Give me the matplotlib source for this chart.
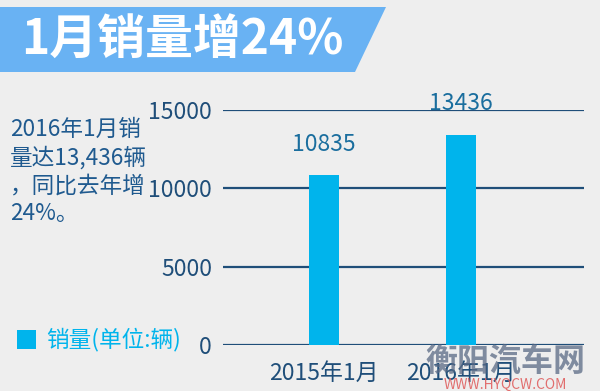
import matplotlib.pyplot as plt
from matplotlib.patches import Polygon, Rectangle

plt.rcParams['font.family'] = ['Noto Sans CJK SC', 'DejaVu Sans']

# data
months = ["2015年1月", "2016年1月"]
sales = [10835, 13436]
yticks = [0, 5000, 10000, 15000]
title = "1月销量增24%"
note = "2016年1月销\n量达13,436辆\n，同比去年增\n24%。"
legend_label = "销量(单位:辆)"

bg = "#eeeeee"
navy = "#1f4e79"
bar_color = "#00b4ec"

fig = plt.figure(figsize=(6, 3.91), dpi=100)
fig.patch.set_facecolor(bg)

# title banner (pixel coords -> figure fraction)
W, H = 600, 391
def fx(px):
    return px / W
def fy(py):
    return 1 - py / H

banner = Polygon([(0, fy(7)), (fx(386), fy(7)), (fx(355), fy(72)), (0, fy(72))],
                 closed=True, transform=fig.transFigure, facecolor="#69b2f3",
                 edgecolor="none")
fig.patches.append(banner)
fig.text(fx(21), fy(40), title, color="white", fontsize=34.5, fontweight="bold",
         ha="left", va="center")

# left note
fig.text(fx(10), fy(118), note, color="#1f5a8f", fontsize=16.3,
         ha="left", va="top", linespacing=1.27)

# legend
fig.patches.append(Rectangle((fx(17), fy(349)), 19 / W, 19 / H,
                             transform=fig.transFigure, facecolor=bar_color,
                             edgecolor="none"))
fig.text(fx(46), fy(339), legend_label, color=bar_color, fontsize=16.3,
         ha="left", va="center")

# axes
ax = fig.add_axes([fx(223), fy(345), fx(584) - fx(223), fy(110) - fy(345)])
ax.set_facecolor(bg)
x = list(range(len(months)))
ax.bar(x, sales, width=0.22, color=bar_color, zorder=3)
ax.set_xlim(-0.737, 1.898)
ax.set_ylim(0, 15000)
ax.set_yticks(yticks)
ax.set_yticklabels([str(v) for v in yticks])
for v in yticks:
    ax.axhline(v, color=navy, linewidth=1.6, zorder=2)
for s in ax.spines.values():
    s.set_visible(False)
ax.tick_params(axis="y", length=0, pad=8, labelsize=16.5, labelcolor=navy)
ax.set_xticks(x)
ax.set_xticklabels(months)
ax.tick_params(axis="x", length=0, pad=12, labelsize=16.5, labelcolor=navy)

for xi, v in zip(x, sales):
    ax.annotate(str(v), (xi, v), xytext=(0, 31), textcoords="offset pixels",
                ha="center", va="center", fontsize=16.5, color="#1a6e9e",
                annotation_clip=False)

# watermark
fig.text(fx(505), fy(362), "衡阳汽车网", color="#5a6a85", fontsize=23,
         fontweight="bold", ha="center", va="center", alpha=0.75)
fig.text(fx(505), fy(385), "WWW.HYQCW.COM", color="#e06060", fontsize=10,
         ha="center", va="center", alpha=0.9)

fig.savefig("out.png", dpi=100, facecolor=bg)
